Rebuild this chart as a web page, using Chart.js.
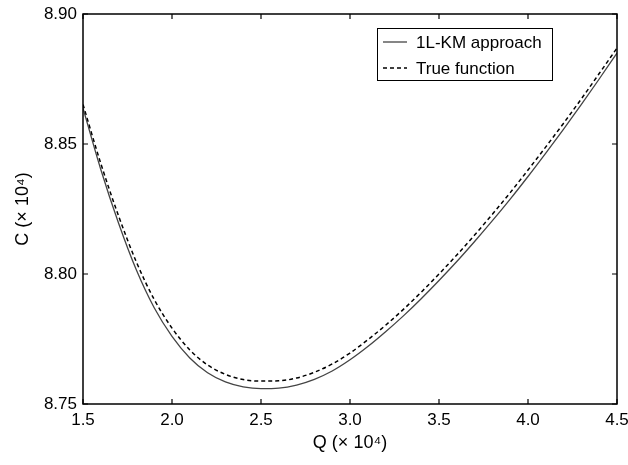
<!DOCTYPE html>
<html><head><meta charset="utf-8">
<script src="https://cdn.jsdelivr.net/npm/chart.js@4.4.0/dist/chart.umd.min.js"></script>
<style>html,body{margin:0;padding:0;background:#fff;}#wrap{width:628px;height:465px;position:relative;overflow:hidden;}</style>
</head><body><div id="wrap"><canvas id="c" width="628" height="465"></canvas></div>
<script>
const qValues = [1.5,1.6,1.7,1.8,1.9,2.0,2.1,2.2,2.3,2.4,2.5,2.6,2.7,2.8,2.9,3.0,3.1,3.2,3.3,3.4,3.5,3.6,3.7,3.8,3.9,4.0,4.1,4.2,4.3,4.4,4.5];
const kmValues = [8.8638,8.8402,8.8195,8.8015,8.7870,8.7760,8.7677,8.7620,8.7585,8.7566,8.7559,8.7561,8.7573,8.7595,8.7627,8.7670,8.7721,8.7778,8.7839,8.7905,8.7975,8.8048,8.8125,8.8205,8.8288,8.8375,8.8465,8.8557,8.8652,8.8750,8.8850];
const trueValues = [8.8652,8.8425,8.8223,8.8046,8.7902,8.7792,8.7708,8.7650,8.7614,8.7594,8.7588,8.7589,8.7600,8.7622,8.7654,8.7696,8.7747,8.7803,8.7864,8.7930,8.8000,8.8073,8.8150,8.8230,8.8313,8.8400,8.8489,8.8580,8.8674,8.8771,8.8869];
const xTicks = [1.5,2.0,2.5,3.0,3.5,4.0,4.5];
const yTicks = [8.75,8.80,8.85,8.90];
const seriesLabels = ['1L-KM approach','True function'];
const xTitle = 'Q (× 10⁴)';
const yTitle = 'C (× 10⁴)';

const FONT = "'Liberation Sans', Arial, Helvetica, sans-serif";

const frameTicks = {
  id: 'frameTicks',
  afterDraw(chart) {
    const {ctx, chartArea: a, scales} = chart;
    ctx.save();
    ctx.strokeStyle = '#000';
    ctx.lineWidth = 1.5;
    ctx.strokeRect(a.left, a.top, a.right - a.left, a.bottom - a.top);
    ctx.lineWidth = 1.2;
    const L = 5;
    ctx.beginPath();
    scales.x.ticks.forEach(t => {
      const px = scales.x.getPixelForValue(t.value);
      ctx.moveTo(px, a.bottom); ctx.lineTo(px, a.bottom - L);
      ctx.moveTo(px, a.top); ctx.lineTo(px, a.top + L);
    });
    scales.y.ticks.forEach(t => {
      const py = scales.y.getPixelForValue(t.value);
      ctx.moveTo(a.left, py); ctx.lineTo(a.left + L, py);
      ctx.moveTo(a.right, py); ctx.lineTo(a.right - L, py);
    });
    ctx.stroke();
    // legend box
    const bx = 377, by = 28, bw = 175, bh = 52;
    ctx.fillStyle = '#fff';
    ctx.fillRect(bx, by, bw, bh);
    ctx.lineWidth = 1;
    ctx.strokeStyle = '#000';
    ctx.strokeRect(bx + 0.5, by + 0.5, bw, bh);
    ctx.font = '17px ' + FONT;
    ctx.textBaseline = 'middle';
    chart.data.datasets.forEach((ds, i) => {
      const y = by + 14 + i * 26;
      ctx.beginPath();
      ctx.strokeStyle = ds.borderColor;
      ctx.lineWidth = ds.borderWidth;
      ctx.setLineDash(ds.borderDash || []);
      ctx.moveTo(bx + 6, y); ctx.lineTo(bx + 30, y);
      ctx.stroke();
      ctx.setLineDash([]);
      ctx.fillStyle = '#000';
      ctx.fillText(ds.label, bx + 39, y + 1);
    });
    ctx.restore();
  }
};

new Chart(document.getElementById('c'), {
  type: 'line',
  data: {
    datasets: [
      { label: seriesLabels[0], data: qValues.map((q, i) => ({x: q, y: kmValues[i]})),
        borderColor: '#444', borderWidth: 1.3, pointRadius: 0, fill: false, cubicInterpolationMode: 'monotone' },
      { label: seriesLabels[1], data: qValues.map((q, i) => ({x: q, y: trueValues[i]})),
        borderColor: '#000', borderWidth: 1.5, borderDash: [4, 3], pointRadius: 0, fill: false, cubicInterpolationMode: 'monotone' }
    ]
  },
  options: {
    responsive: false,
    devicePixelRatio: 1,
    animation: false,
    layout: { padding: { left: 0, right: 11, top: 14, bottom: 0 } },
    plugins: { legend: { display: false }, tooltip: { enabled: false } },
    scales: {
      x: {
        type: 'linear', min: 1.5, max: 4.5,
        afterBuildTicks: s => { s.ticks = xTicks.map(v => ({value: v})); },
        afterFit: s => { s.height = 61; s.paddingLeft = 0; s.paddingRight = 0; },
        grid: { display: false, drawTicks: false },
        border: { display: false },
        ticks: { color: '#000', font: { family: FONT, size: 17 }, padding: 6,
                 callback: v => Number(v).toFixed(1), maxRotation: 0, autoSkip: false },
        title: { display: true, text: xTitle, color: '#000', font: { family: FONT, size: 18 }, padding: { top: 0, bottom: 11 } }
      },
      y: {
        type: 'linear', min: 8.75, max: 8.90,
        afterBuildTicks: s => { s.ticks = yTicks.map(v => ({value: v})); },
        afterFit: s => { s.width = 83; s.paddingTop = 0; s.paddingBottom = 0; },
        grid: { display: false, drawTicks: false },
        border: { display: false },
        ticks: { color: '#000', font: { family: FONT, size: 17 }, padding: 6,
                 callback: v => Number(v).toFixed(2) },
        title: { display: true, text: yTitle, color: '#000', font: { family: FONT, size: 18 }, padding: { top: 12, bottom: 0 } }
      }
    }
  },
  plugins: [frameTicks]
});
</script>
</body></html>
